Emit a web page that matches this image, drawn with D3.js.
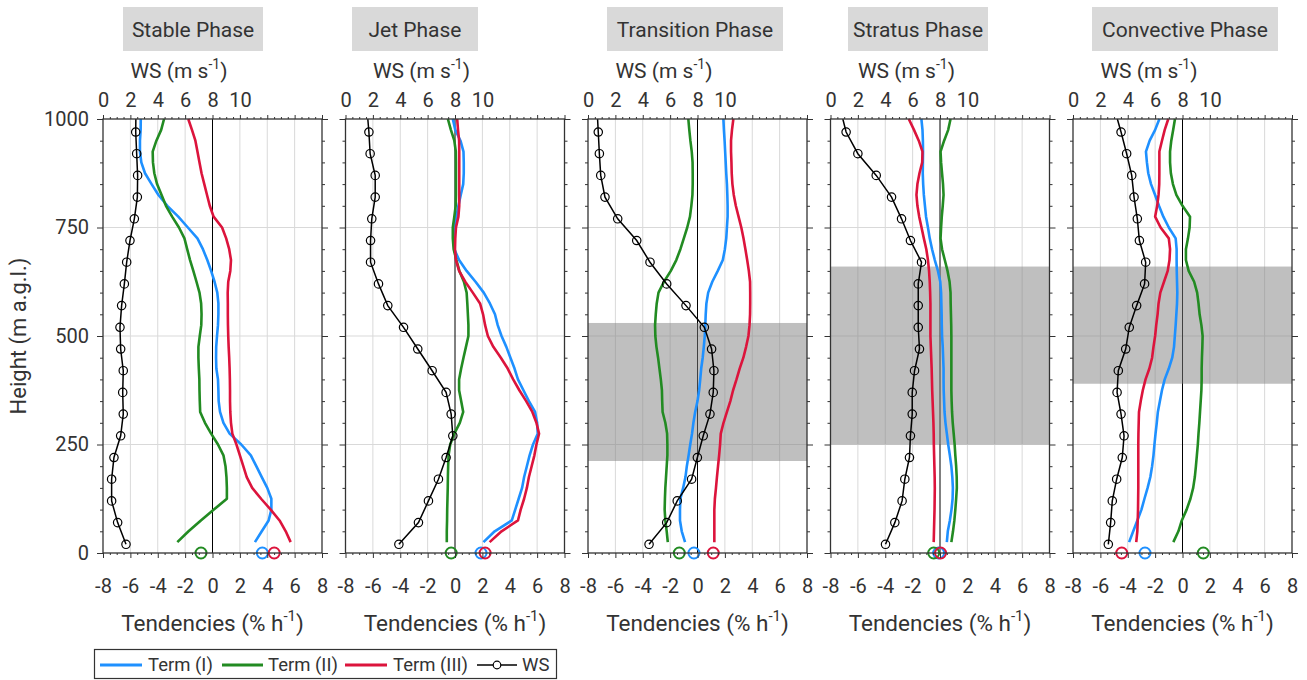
<!DOCTYPE html>
<html>
<head>
<meta charset="utf-8">
<script src="https://cdn.jsdelivr.net/npm/d3@7"></script>
<style>
  body { margin: 0; background: #fff; }
  svg text { font-family: Roboto, "Noto Sans", sans-serif; fill: #333; }
</style>
</head>
<body>
<svg id="chart" width="1307" height="680"></svg>
<script>
// ---- data -----------------------------------------------------------------
const phases = ["Stable Phase", "Jet Phase", "Transition Phase", "Stratus Phase", "Convective Phase"];

// heights (m a.g.l.) of the tendency profiles
const heights = [25, 50, 75, 100, 125, 150, 175, 200, 225, 250, 275, 300, 325, 350, 375, 400,
  425, 450, 475, 500, 525, 550, 575, 600, 625, 650, 675, 700, 725, 750, 775, 800,
  825, 850, 875, 900, 925, 950, 975, 1000];

// tendencies (% h-1), one array per phase and term
const stableTermI = [3.1, 3.6, 4.1, 4.3, 4.3, 4.0, 3.6, 3.2, 2.8, 2.1, 1.25, 0.8, 0.55, 0.45, 0.43, 0.4,
  0.28, 0.26, 0.27, 0.33, 0.4, 0.43, 0.43, 0.35, 0.15, -0.1, -0.38, -0.7, -1.1, -1.8, -2.5, -3.3,
  -3.95, -4.45, -4.93, -5.2, -5.3, -5.3, -5.25, -5.24];
const stableTermII = [-2.57, -1.75, -0.85, 0.1, 1.05, 1.05, 1.02, 0.95, 0.8, 0.4, -0.1, -0.55, -0.9, -0.93, -0.95, -0.96,
  -1.0, -1.03, -1.03, -0.93, -0.82, -0.8, -0.83, -0.95, -1.17, -1.4, -1.64, -1.85, -2.05, -2.45, -2.95, -3.4,
  -3.72, -4.05, -4.25, -4.35, -4.37, -4.1, -3.75, -3.54];
const stableTermIII = [5.71, 5.35, 4.9, 4.25, 3.55, 2.9, 2.5, 2.25, 2.0, 1.75, 1.45, 1.35, 1.3, 1.28, 1.28, 1.27,
  1.25, 1.22, 1.18, 1.15, 1.13, 1.12, 1.12, 1.11, 1.15, 1.3, 1.35, 1.22, 1.0, 0.7, 0.08, -0.2,
  -0.4, -0.6, -0.8, -0.95, -1.1, -1.25, -1.5, -1.77];

const jetTermI = [2.08, 2.9, 4.15, 4.4, 4.65, 4.9, 5.05, 5.25, 5.45, 5.7, 6.05, 6.0, 5.85, 5.4, 5.0, 4.6,
  4.35, 4.05, 3.75, 3.4, 3.12, 2.92, 2.55, 2.1, 1.5, 0.85, 0.3, -0.05, -0.08, -0.03, 0.1, 0.25,
  0.42, 0.6, 0.64, 0.64, 0.62, 0.4, 0.02, -0.16];
const jetTermII = [-0.6, -0.6, -0.58, -0.57, -0.55, -0.53, -0.52, -0.5, -0.47, -0.35, -0.05, 0.35, 0.6, 0.45, 0.3, 0.3,
  0.45, 0.62, 0.8, 0.98, 0.98, 0.94, 0.9, 0.85, 0.65, 0.32, 0.1, -0.1, -0.16, -0.16, -0.05, 0.05,
  0.07, 0.07, 0.07, 0.07, 0.06, -0.05, -0.3, -0.52];
const jetTermIII = [2.53, 3.4, 4.6, 4.8, 5.05, 5.25, 5.4, 5.6, 5.8, 5.95, 6.14, 5.95, 5.65, 5.2, 4.7, 4.25,
  3.85, 3.35, 2.8, 2.4, 2.2, 2.05, 1.83, 1.3, 0.75, 0.3, 0.07, 0.0, 0.02, 0.07, 0.25, 0.31,
  0.31, 0.31, 0.31, 0.31, 0.31, 0.3, 0.22, 0.16];

const transitionTermI = [-0.91, -1.15, -1.28, -1.28, -1.25, -1.05, -0.88, -0.78, -0.65, -0.53, -0.4, -0.3, -0.17, 0.0, 0.12, 0.2,
  0.27, 0.38, 0.46, 0.53, 0.57, 0.6, 0.65, 0.78, 1.08, 1.48, 1.85, 2.0, 2.1, 2.15, 2.2, 2.2,
  2.18, 2.15, 2.1, 2.06, 2.02, 1.98, 1.93, 1.89];
const transitionTermII = [-2.17, -2.25, -2.35, -2.4, -2.38, -2.35, -2.3, -2.25, -2.2, -2.2, -2.22, -2.35, -2.55, -2.58, -2.6, -2.68,
  -2.78, -2.88, -3.0, -3.08, -3.1, -3.05, -2.98, -2.85, -2.45, -1.95, -1.55, -1.25, -1.0, -0.75, -0.55, -0.45,
  -0.37, -0.35, -0.35, -0.36, -0.42, -0.52, -0.6, -0.67];
const transitionTermIII = [1.23, 1.23, 1.23, 1.23, 1.27, 1.35, 1.42, 1.5, 1.58, 1.65, 1.7, 1.9, 2.15, 2.4, 2.6, 2.85,
  3.08, 3.35, 3.55, 3.72, 3.8, 3.84, 3.85, 3.85, 3.84, 3.75, 3.63, 3.5, 3.36, 3.2, 3.0, 2.8,
  2.65, 2.55, 2.5, 2.48, 2.45, 2.45, 2.52, 2.62];

const stratusTermI = [0.5, 0.57, 0.72, 0.84, 0.92, 0.94, 0.9, 0.83, 0.72, 0.6, 0.5, 0.4, 0.33, 0.3, 0.27, 0.26,
  0.26, 0.23, 0.2, 0.15, 0.13, 0.12, 0.1, 0.08, 0.02, -0.15, -0.38, -0.58, -0.75, -0.88, -1.02, -1.1,
  -1.18, -1.23, -1.26, -1.25, -1.24, -1.25, -1.28, -1.36];
const stratusTermII = [0.83, 0.95, 1.05, 1.12, 1.18, 1.23, 1.22, 1.18, 1.12, 1.07, 1.0, 0.93, 0.88, 0.85, 0.83, 0.83,
  0.83, 0.83, 0.83, 0.83, 0.82, 0.8, 0.78, 0.77, 0.7, 0.55, 0.35, 0.15, 0.04, 0.08, 0.13, 0.2,
  0.26, 0.22, 0.15, 0.08, 0.04, 0.3, 0.6, 0.77];
const stratusTermIII = [-0.46, -0.44, -0.42, -0.4, -0.39, -0.38, -0.39, -0.41, -0.43, -0.45, -0.46, -0.48, -0.51, -0.54, -0.57, -0.59,
  -0.61, -0.64, -0.67, -0.7, -0.7, -0.7, -0.7, -0.72, -0.75, -0.8, -0.88, -1.0, -1.18, -1.35, -1.52, -1.65,
  -1.72, -1.65, -1.5, -1.3, -1.28, -1.55, -1.9, -2.28];

const convectiveTermI = [-3.9, -3.6, -3.3, -3.0, -2.78, -2.55, -2.35, -2.22, -2.12, -2.05, -1.97, -1.88, -1.8, -1.65, -1.5, -1.3,
  -1.0, -0.75, -0.62, -0.56, -0.5, -0.45, -0.4, -0.38, -0.4, -0.42, -0.43, -0.43, -0.5, -1.0, -1.4, -1.72,
  -2.0, -2.3, -2.5, -2.6, -2.67, -2.4, -2.0, -1.69];
const convectiveTermII = [-0.67, -0.3, -0.05, 0.3, 0.58, 0.78, 0.9, 0.98, 1.05, 1.12, 1.17, 1.23, 1.28, 1.33, 1.38, 1.4,
  1.4, 1.42, 1.45, 1.47, 1.38, 1.25, 1.17, 1.07, 0.85, 0.45, 0.25, 0.25, 0.4, 0.52, 0.55, 0.0,
  -0.45, -0.7, -0.85, -0.91, -0.91, -0.82, -0.68, -0.55];
const convectiveTermIII = [-3.38, -3.3, -3.27, -3.25, -3.24, -3.23, -3.23, -3.23, -3.23, -3.23, -3.22, -3.2, -3.18, -3.05, -2.9, -2.7,
  -2.42, -2.22, -2.12, -2.0, -1.92, -1.82, -1.75, -1.62, -1.35, -1.08, -0.95, -0.91, -1.0, -1.6, -2.0, -1.85,
  -1.75, -1.7, -1.69, -1.69, -1.69, -1.5, -1.3, -1.04];

// surface (0 m) tendencies, one value per phase
const surfaceTermI = [3.64, 1.9, -0.26, -0.1, -2.74];
const surfaceTermII = [-0.84, -0.28, -1.33, -0.46, 1.52];
const surfaceTermIII = [4.51, 2.2, 1.15, 0.04, -4.44];

// wind speed (m s-1) profiles; circles are drawn at every level below 1000 m
const wsHeights = [20, 70, 120, 170, 220, 270, 320, 370, 420, 470, 520, 570, 620, 670, 720, 770, 820, 870, 920, 970, 1000];
const wsStable = [1.68, 1.07, 0.63, 0.63, 0.8, 1.29, 1.48, 1.44, 1.48, 1.29, 1.24, 1.36, 1.56, 1.73, 1.97, 2.29, 2.51, 2.53, 2.46, 2.39, 2.4];
const wsJet = [3.9, 5.33, 6.06, 6.79, 7.35, 7.84, 7.72, 7.35, 6.33, 5.28, 4.24, 3.09, 2.41, 1.83, 1.83, 1.92, 2.17, 2.17, 1.8, 1.71, 1.63];
const wsTransition = [4.46, 5.75, 6.52, 7.57, 7.99, 8.42, 8.91, 9.15, 9.2, 9.03, 8.5, 7.16, 5.75, 4.53, 3.56, 2.17, 1.24, 0.93, 0.83, 0.75, 0.7];
const wsStratus = [4.02, 4.7, 5.23, 5.43, 5.77, 5.84, 5.97, 5.97, 6.14, 6.5, 6.41, 6.41, 6.41, 6.65, 5.84, 5.19, 4.46, 3.34, 2.0, 1.14, 0.9];
const wsConvective = [2.58, 2.75, 2.87, 3.19, 3.6, 3.73, 3.51, 3.22, 3.31, 3.85, 4.11, 4.65, 5.23, 5.31, 4.85, 4.7, 4.46, 4.29, 3.92, 3.51, 3.24];

// shaded height layer per phase (m), null where none
const layerBottom = [null, null, 212, 250, 390];
const layerTop = [null, null, 530, 660, 660];

// axis ticks
const tendencyTicks = [-8, -6, -4, -2, 0, 2, 4, 6, 8];
const wsTicks = [0, 2, 4, 6, 8, 10, 12, 14, 16];
const wsTickLabels = ["0", "2", "4", "6", "8", "10", "", "", ""];
const heightTicks = [0, 250, 500, 750, 1000];

const termNames = ["Term (I)", "Term (II)", "Term (III)"];
const termColors = ["#1e90ff", "#228b22", "#dc143c"];

// ---- table built from the arrays -------------------------------------------
const termSeries = [
  [stableTermI, stableTermII, stableTermIII],
  [jetTermI, jetTermII, jetTermIII],
  [transitionTermI, transitionTermII, transitionTermIII],
  [stratusTermI, stratusTermII, stratusTermIII],
  [convectiveTermI, convectiveTermII, convectiveTermIII]
];
const wsSeries = [wsStable, wsJet, wsTransition, wsStratus, wsConvective];
const surfaceSeries = [surfaceTermI, surfaceTermII, surfaceTermIII];

// ---- layout ----------------------------------------------------------------
const plotLeft = 103, plotTop = 119, panelW = 219, panelH = 434, panelStep = 242.5;
// title box [left, right] per panel
const titleBoxes = [[123, 263], [352, 478], [607, 783], [848, 988], [1092, 1278]];

const svg = d3.select("#chart");

const x = d3.scaleLinear().domain([-8, 8]).range([0, panelW]);
const xWS = d3.scaleLinear().domain([0, 16]).range([0, panelW]);
const y = d3.scaleLinear().domain([0, 1000]).range([panelH, 0]);

const minorTendency = d3.range(-8, 8.01, 0.5).filter(v => Math.abs(v % 2) > 1e-6);
const minorWS = d3.range(0, 16.01, 0.5).filter(v => Math.abs(v % 2) > 1e-6);
const minorHeight = d3.range(0, 1001, 50).filter(v => v % 250 !== 0);

const line = d3.line().x(d => x(d.v)).y(d => y(d.h));
const wsLine = d3.line().x(d => xWS(d.v)).y(d => y(d.h));

function styleAxis(g) {
  g.select(".domain").remove();
  g.selectAll(".tick line").attr("stroke", "#333").attr("stroke-width", 1);
  g.selectAll(".tick text").attr("font-size", 20).attr("fill", "#333")
    .style("font-family", "Roboto, sans-serif");
}

phases.forEach((phase, i) => {
  const left = plotLeft + i * panelStep;
  const g = svg.append("g").attr("transform", `translate(${left},${plotTop})`);

  // grid
  g.append("g").selectAll("line").data(tendencyTicks.filter(v => v !== 0 && v !== -8 && v !== 8)).join("line")
    .attr("x1", d => x(d)).attr("x2", d => x(d)).attr("y1", 0).attr("y2", panelH)
    .attr("stroke", "#d9d9d9").attr("stroke-width", 1);
  g.append("g").selectAll("line").data([250, 500, 750]).join("line")
    .attr("x1", 0).attr("x2", panelW).attr("y1", d => y(d)).attr("y2", d => y(d))
    .attr("stroke", "#d9d9d9").attr("stroke-width", 1);
  g.append("line").attr("x1", x(0)).attr("x2", x(0)).attr("y1", 0).attr("y2", panelH)
    .attr("stroke", "#000").attr("stroke-width", 1);

  // shaded layer
  if (layerBottom[i] !== null) {
    g.append("rect").attr("x", 0).attr("width", panelW)
      .attr("y", y(layerTop[i])).attr("height", y(layerBottom[i]) - y(layerTop[i]))
      .attr("fill", "#808080").attr("fill-opacity", 0.5);
  }

  // tendency profiles
  termSeries[i].forEach((vals, k) => {
    const pts = heights.map((h, j) => ({ h, v: vals[j] }));
    g.append("path").datum(pts).attr("d", line)
      .attr("fill", "none").attr("stroke", termColors[k]).attr("stroke-width", 2.6)
      .attr("stroke-linejoin", "round");
  });

  // wind speed
  const ws = wsHeights.map((h, j) => ({ h, v: wsSeries[i][j] }));
  g.append("path").datum(ws).attr("d", wsLine)
    .attr("fill", "none").attr("stroke", "#000").attr("stroke-width", 1.5);
  g.append("g").selectAll("circle").data(ws.filter(d => d.h < 1000)).join("circle")
    .attr("cx", d => xWS(d.v)).attr("cy", d => y(d.h)).attr("r", 4.2)
    .attr("fill", "none").attr("stroke", "#000").attr("stroke-width", 1.2);

  // surface values
  surfaceSeries.forEach((vals, k) => {
    g.append("circle").attr("cx", x(vals[i])).attr("cy", y(0)).attr("r", 5.5)
      .attr("fill", "none").attr("stroke", termColors[k]).attr("stroke-width", 2);
  });

  // axes
  g.append("g").attr("transform", `translate(0,${panelH})`)
    .call(d3.axisBottom(x).tickValues(tendencyTicks).tickSize(5).tickPadding(21).tickFormat(d => String(d)))
    .call(styleAxis);
  g.append("g").attr("transform", `translate(0,${panelH})`)
    .call(d3.axisBottom(x).tickValues(minorTendency).tickSize(2).tickFormat(""))
    .call(styleAxis);
  g.append("g")
    .call(d3.axisTop(xWS).tickValues(wsTicks).tickSize(4).tickPadding(8).tickFormat((d, j) => wsTickLabels[j]))
    .call(styleAxis);
  g.append("g")
    .call(d3.axisTop(xWS).tickValues(minorWS).tickSize(2).tickFormat(""))
    .call(styleAxis);
  g.append("g")
    .call(d3.axisLeft(y).tickValues(heightTicks).tickSize(6).tickPadding(8).tickFormat(i === 0 ? (d => String(d)) : () => ""))
    .call(styleAxis);
  g.append("g")
    .call(d3.axisLeft(y).tickValues(minorHeight).tickSize(3).tickFormat(""))
    .call(styleAxis);
  g.append("g").attr("transform", `translate(${panelW},0)`)
    .call(d3.axisRight(y).tickValues(heightTicks).tickSize(6).tickFormat(""))
    .call(styleAxis);
  g.append("g").attr("transform", `translate(${panelW},0)`)
    .call(d3.axisRight(y).tickValues(minorHeight).tickSize(3).tickFormat(""))
    .call(styleAxis);

  // frame
  g.append("rect").attr("width", panelW).attr("height", panelH)
    .attr("fill", "none").attr("stroke", "#333").attr("stroke-width", 1.3);

  // axis titles
  const wsTitle = g.append("text").attr("x", 76).attr("y", -41).attr("text-anchor", "middle")
    .attr("font-size", 21);
  wsTitle.append("tspan").text("WS (m s");
  wsTitle.append("tspan").attr("dy", -9).attr("font-size", 14).text("-1");
  wsTitle.append("tspan").attr("dy", 9).text(")");

  const tdTitle = g.append("text").attr("x", panelW / 2).attr("y", 512).attr("text-anchor", "middle")
    .attr("font-size", 22.5);
  tdTitle.append("tspan").text("Tendencies (% h");
  tdTitle.append("tspan").attr("dy", -10).attr("font-size", 15).text("-1");
  tdTitle.append("tspan").attr("dy", 10).text(")");

  // phase title in a grey box
  const [b0, b1] = titleBoxes[i];
  svg.append("rect").attr("x", b0).attr("y", 7).attr("width", b1 - b0).attr("height", 44)
    .attr("fill", "#d9d9d9");
  svg.append("text").attr("x", (b0 + b1) / 2).attr("y", 37).attr("text-anchor", "middle")
    .attr("font-size", 21).text(phase);
});

// height axis title
svg.append("text").attr("transform", `translate(26,${plotTop + panelH / 2}) rotate(-90)`)
  .attr("text-anchor", "middle").attr("font-size", 22).text("Height (m a.g.l.)");

// legend
const legend = svg.append("g");
legend.append("rect").attr("x", 94.5).attr("y", 649.5).attr("width", 462).attr("height", 29)
  .attr("fill", "#fff").attr("stroke", "#333").attr("stroke-width", 1.2);
const legendItems = [
  { name: termNames[0], color: termColors[0], x0: 100, x1: 142, tx: 148 },
  { name: termNames[1], color: termColors[1], x0: 222, x1: 263, tx: 268 },
  { name: termNames[2], color: termColors[2], x0: 345, x1: 387, tx: 393 },
  { name: "WS", color: "#000", x0: 477, x1: 517, tx: 522, marker: true }
];
legendItems.forEach(it => {
  legend.append("line").attr("x1", it.x0).attr("x2", it.x1).attr("y1", 665).attr("y2", 665)
    .attr("stroke", it.color).attr("stroke-width", it.marker ? 1.3 : 3);
  if (it.marker) {
    legend.append("circle").attr("cx", (it.x0 + it.x1) / 2).attr("cy", 665).attr("r", 3.8)
      .attr("fill", "#fff").attr("stroke", "#000").attr("stroke-width", 1.2);
  }
  legend.append("text").attr("x", it.tx).attr("y", 671).attr("font-size", 18.5).text(it.name);
});
</script>
</body>
</html>
